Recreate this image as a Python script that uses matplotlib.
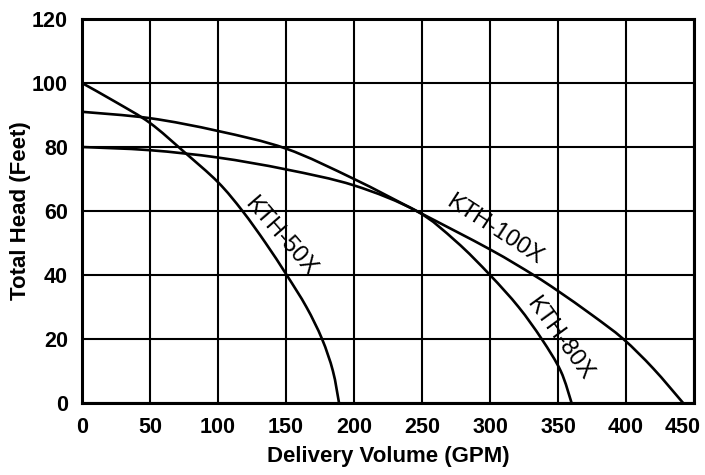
import numpy as np
import matplotlib.pyplot as plt
from matplotlib.path import Path
from matplotlib.patches import PathPatch
from matplotlib.transforms import ScaledTranslation

# pump curves (GPM, feet)
x_50 = [0, 25, 50, 75, 100, 118, 135, 150.5, 165, 176.5, 184.5, 189]
h_50 = [100, 94, 87.5, 78.5, 69, 60, 50, 40, 30, 20, 10, 0]

x_80 = [0, 50, 100, 150, 200, 246, 275, 300, 321, 338, 352, 360]
h_80 = [80, 79, 76.7, 73, 68, 60, 50.5, 40, 30, 20, 10, 0]

x_100 = [0, 50, 100, 150, 200, 246, 300, 332, 350, 375, 398, 420, 442]
h_100 = [91, 89, 85, 79.5, 70, 60, 48, 40, 35, 27.5, 20, 10.8, 0]

x_ticks = [0, 50, 100, 150, 200, 250, 300, 350, 400, 450]
y_ticks = [0, 20, 40, 60, 80, 100, 120]

bold = ['Liberation Sans', 'DejaVu Sans']


def smooth(xs, ys):
    # catmull-rom through the read points, drawn as bezier segments
    p = np.column_stack([xs, ys]).astype(float)
    verts, codes = [p[0]], [Path.MOVETO]
    n = len(p)
    for i in range(n - 1):
        p0, p1, p2, p3 = p[max(i - 1, 0)], p[i], p[i + 1], p[min(i + 2, n - 1)]
        verts += [p1 + (p2 - p0) / 6, p2 - (p3 - p1) / 6, p2]
        codes += [Path.CURVE4] * 3
    return Path(verts, codes)


fig = plt.figure(figsize=(7.05, 4.75), dpi=100)
ax = fig.add_axes([0.1163, 0.1516, 0.8681, 0.8084])

for xs, hs in [(x_50, h_50), (x_80, h_80), (x_100, h_100)]:
    ax.add_patch(PathPatch(smooth(xs, hs), fill=False, ec='black', lw=1.9,
                           capstyle='round', zorder=3))

ax.set_xlim(0, 450)
ax.set_ylim(0, 120)
ax.set_xticks(x_ticks)
ax.set_yticks(y_ticks)
ax.grid(True, color='black', lw=1.5)
ax.set_axisbelow(True)
for s in ax.spines.values():
    s.set_linewidth(2.2)

ax.tick_params(length=0, pad=10)
for lab in ax.get_xticklabels() + ax.get_yticklabels():
    lab.set_family(bold)
    lab.set_fontweight('bold')
    lab.set_fontsize(15.5)
# keep the last x label inside the picture
last = ax.get_xticklabels()[-1]
last.set_transform(last.get_transform() + ScaledTranslation(-8 / 72, 0, fig.dpi_scale_trans))

ax.set_xlabel('Delivery Volume (GPM)', family=bold, fontweight='bold',
              fontsize=16, labelpad=6)
ax.set_ylabel('Total Head (Feet)', family=bold, fontweight='bold', fontsize=16)
ax.yaxis.set_label_coords(-0.1, 0.5)
ax.yaxis.label.set_verticalalignment('center')

# curve names along the lines
ax.text(146, 52, 'KTH-50X', rotation=-49, family=bold, fontsize=17,
        ha='center', va='center', rotation_mode='anchor')
ax.text(303, 54, 'KTH-100X', rotation=-33, family=bold, fontsize=17,
        ha='center', va='center', rotation_mode='anchor')
ax.text(351, 20, 'KTH-80X', rotation=-54, family=bold, fontsize=17,
        ha='center', va='center', rotation_mode='anchor')

fig.savefig('out.png', dpi=100)
